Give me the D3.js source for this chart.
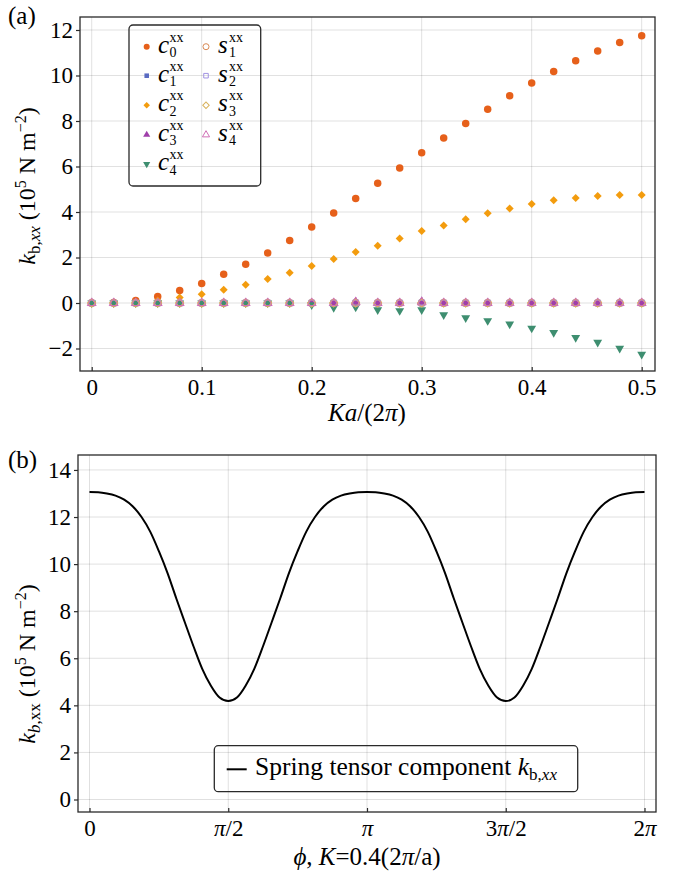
<!DOCTYPE html>
<html>
<head>
<meta charset="utf-8">
<script src="https://cdn.jsdelivr.net/npm/d3@7"></script>
<style>
  body { margin: 0; background: #fff; }
  svg { display: block; }
  text { font-family: "Liberation Serif", "Times New Roman", serif; fill: #000; }
</style>
</head>
<body>
<svg id="fig" width="683" height="871"></svg>
<script>
// ---------- panel (a): Fourier coefficients vs Ka/(2π) ----------
const ka = [0, 0.02, 0.04, 0.06, 0.08, 0.10, 0.12, 0.14, 0.16, 0.18, 0.20, 0.22, 0.24,
            0.26, 0.28, 0.30, 0.32, 0.34, 0.36, 0.38, 0.40, 0.42, 0.44, 0.46, 0.48, 0.50];
const c0 = [0.00, 0.02, 0.11, 0.29, 0.55, 0.86, 1.26, 1.70, 2.20, 2.75, 3.34, 3.96, 4.59,
            5.26, 5.93, 6.60, 7.25, 7.89, 8.52, 9.11, 9.67, 10.18, 10.65, 11.08, 11.45, 11.75];
const c1 = [0, 0, 0, 0, 0, 0, 0, 0, 0, 0, 0, 0, 0.02, 0, 0, 0.02, 0, 0, 0, 0, 0, 0, 0, 0, 0, 0];
const c2 = [0.00, 0.01, 0.04, 0.11, 0.24, 0.39, 0.58, 0.80, 1.06, 1.33, 1.63, 1.93, 2.24,
            2.52, 2.83, 3.16, 3.41, 3.68, 3.94, 4.15, 4.35, 4.52, 4.62, 4.70, 4.75, 4.75];
const c3 = [0, 0, 0, 0, 0, 0, 0, 0, 0, 0, 0, 0, 0.06, 0, 0, 0.07, 0, 0, 0, 0, 0, 0, 0, 0, 0, 0];
const c4 = [0, 0, 0, 0, 0, 0, 0, 0, 0, 0, -0.08, -0.20, -0.18, -0.30, -0.34, -0.30, -0.52,
            -0.65, -0.78, -0.93, -1.11, -1.30, -1.52, -1.73, -1.99, -2.26];
const s1 = [0, 0, 0, 0, 0, 0, 0, 0, 0, 0, 0, 0, 0, 0, 0, 0, 0, 0, 0, 0, 0, 0, 0, 0, 0, 0];
const s2 = [0, 0, 0, 0, 0, 0, 0, 0, 0, 0, 0, 0, 0, 0, 0, 0, 0, 0, 0, 0, 0, 0, 0, 0, 0, 0];
const s3 = [0, 0, 0, 0, 0, 0, 0, 0, 0, 0, 0, 0, 0, 0, 0, 0, 0, 0, 0, 0, 0, 0, 0, 0, 0, 0];
const s4 = [0, 0, 0, 0, 0, 0, 0, 0, 0, 0, 0, 0, 0.03, 0, 0, 0.03, 0, 0, 0, 0, 0, 0, 0, 0, 0, 0];
const xTicksA = [0, 0.1, 0.2, 0.3, 0.4, 0.5];
const yTicksA = [-2, 0, 2, 4, 6, 8, 10, 12];

// ---------- panel (b): k_b,xx vs phase ϕ ----------
// samples every π/32 over [0, 2π]
const kbxx = [13.06, 13.05, 13.00, 12.91, 12.74, 12.45, 12.00, 11.38, 10.55, 9.62, 8.55, 7.52, 6.50, 5.55, 4.83, 4.33, 4.18,
              4.33, 4.83, 5.55, 6.50, 7.52, 8.55, 9.62, 10.55, 11.38, 12.00, 12.45, 12.74, 12.91, 13.00, 13.05, 13.06,
              13.05, 13.00, 12.91, 12.74, 12.45, 12.00, 11.38, 10.55, 9.62, 8.55, 7.52, 6.50, 5.55, 4.83, 4.33, 4.18,
              4.33, 4.83, 5.55, 6.50, 7.52, 8.55, 9.62, 10.55, 11.38, 12.00, 12.45, 12.74, 12.91, 13.00, 13.05, 13.06];
const phiTicks = [0, Math.PI / 2, Math.PI, 3 * Math.PI / 2, 2 * Math.PI];
const phiTickLabels = ["0", "π/2", "π", "3π/2", "2π"];
const yTicksB = [0, 2, 4, 6, 8, 10, 12, 14];

const svg = d3.select("#fig");
const GRID = "rgba(0,0,0,0.12)";
const FRAME = "#2a2a2a";

const A = { l: 80, r: 655, t: 17, b: 371 };
const B = { l: 78, r: 656, t: 455, b: 812 };

const xa = d3.scaleLinear().domain([-0.01064, 0.5121]).range([A.l, A.r]);
const ya = d3.scaleLinear().domain([-2.989, 12.571]).range([A.b, A.t]);
const xb = d3.scaleLinear().domain([-0.1302, 2 * Math.PI + 0.1302]).range([B.l, B.r]);
const yb = d3.scaleLinear().domain([-0.531, 14.635]).range([B.b, B.t]);

function drawGrid(box, xs, ys, xt, yt) {
  const g = svg.append("g").attr("stroke", GRID).attr("stroke-width", 1);
  g.selectAll(".gx").data(xt).join("line")
    .attr("x1", d => xs(d)).attr("x2", d => xs(d)).attr("y1", box.t).attr("y2", box.b);
  g.selectAll(".gy").data(yt).join("line")
    .attr("y1", d => ys(d)).attr("y2", d => ys(d)).attr("x1", box.l).attr("x2", box.r);
}

function drawAxes(box, xs, ys, xt, yt, xfmt) {
  const gx = svg.append("g").attr("transform", `translate(0,${box.b})`)
    .call(d3.axisBottom(xs).tickValues(xt).tickSize(-4).tickPadding(8).tickFormat(xfmt));
  const gy = svg.append("g").attr("transform", `translate(${box.l},0)`)
    .call(d3.axisLeft(ys).tickValues(yt).tickSize(4).tickPadding(3));
  [gx, gy].forEach(g => {
    g.select(".domain").remove();
    g.attr("font-family", null).attr("font-size", null);
    g.selectAll(".tick line").attr("stroke", FRAME).attr("stroke-width", 1.2);
    g.selectAll(".tick text").style("font-size", "23px");
  });
  return gx;
}

function drawFrame(box) {
  svg.append("rect").attr("x", box.l).attr("y", box.t)
    .attr("width", box.r - box.l).attr("height", box.b - box.t)
    .attr("fill", "none").attr("stroke", FRAME).attr("stroke-width", 1.3);
}

// ---------- panel (a) ----------
drawGrid(A, xa, ya, xTicksA, yTicksA);
drawAxes(A, xa, ya, xTicksA, yTicksA, d3.format("~g"));

const series = [
  { vals: c0, shape: "circle",   color: "#E6601A", hollow: false },
  { vals: c1, shape: "square",   color: "#5A6BC2", hollow: false },
  { vals: c2, shape: "diamond",  color: "#F39C0E", hollow: false },
  { vals: c3, shape: "triangle", color: "#A03FAA", hollow: false },
  { vals: c4, shape: "tridown",  color: "#3E8E70", hollow: false },
  { vals: s1, shape: "circle",   color: "#D98A55", hollow: true },
  { vals: s2, shape: "square",   color: "#A294E2", hollow: true },
  { vals: s3, shape: "diamond",  color: "#D8B25C", hollow: true },
  { vals: s4, shape: "triangle", color: "#D070B6", hollow: true }
];

function markerPath(shape, k) {
  switch (shape) {
    case "circle":   return d3.symbol(d3.symbolCircle, 44 * k)();
    case "square":   return d3.symbol(d3.symbolSquare, 32 * k)();
    case "diamond":  return d3.symbol(d3.symbolSquare, 32 * k)();
    default:         return d3.symbol(d3.symbolTriangle, 34 * k)();
  }
}
function markerRot(shape) {
  return shape === "diamond" ? 45 : shape === "tridown" ? 180 : 0;
}

const plotA = svg.append("g");
series.forEach(s => {
  plotA.append("g").selectAll("path").data(ka).join("path")
    .attr("d", markerPath(s.shape, 1))
    .attr("transform", (d, i) => `translate(${xa(d)},${ya(s.vals[i])}) rotate(${markerRot(s.shape)})`)
    .attr("fill", s.hollow ? "none" : s.color)
    .attr("stroke", s.hollow ? s.color : "none")
    .attr("stroke-width", 1);
});
drawFrame(A);

// legend (a): symbol, then c/s with stacked superscript "xx" and subscript index
svg.append("rect").attr("x", 129).attr("y", 25).attr("width", 131.7).attr("height", 161)
  .attr("rx", 4).attr("fill", "none").attr("stroke", FRAME).attr("stroke-width", 1.3);
const legRows = [46.7, 75.7, 105.3, 134.8, 164];
const legItems = [
  { s: 0, col: 0, row: 0, base: "c", idx: "0" },
  { s: 1, col: 0, row: 1, base: "c", idx: "1" },
  { s: 2, col: 0, row: 2, base: "c", idx: "2" },
  { s: 3, col: 0, row: 3, base: "c", idx: "3" },
  { s: 4, col: 0, row: 4, base: "c", idx: "4" },
  { s: 5, col: 1, row: 0, base: "s", idx: "1" },
  { s: 6, col: 1, row: 1, base: "s", idx: "2" },
  { s: 7, col: 1, row: 2, base: "s", idx: "3" },
  { s: 8, col: 1, row: 3, base: "s", idx: "4" }
];
const legCols = [{ mx: 146.7, tx: 158, sx: 169.5 }, { mx: 206, tx: 218, sx: 229 }];
legItems.forEach(it => {
  const s = series[it.s], c = legCols[it.col], y = legRows[it.row];
  svg.append("path").attr("d", markerPath(s.shape, 0.65))
    .attr("transform", `translate(${c.mx},${y}) rotate(${markerRot(s.shape)})`)
    .attr("fill", s.hollow ? "none" : s.color)
    .attr("stroke", s.hollow ? s.color : "none").attr("stroke-width", 1);
  const t = svg.append("text").attr("x", c.tx).attr("y", y + 6);
  t.append("tspan").style("font-size", "25px").style("font-style", "italic").text(it.base);
  t.append("tspan").attr("x", c.sx).attr("dy", -11).style("font-size", "14px").text("xx");
  t.append("tspan").attr("x", c.sx).attr("dy", 15.5).style("font-size", "14px").text(it.idx);
});

// axis titles (a)
const xtA = svg.append("text").attr("x", 367).attr("y", 421).attr("text-anchor", "middle").style("font-size", "25px");
xtA.append("tspan").style("font-style", "italic").text("Ka");
xtA.append("tspan").text("/(2");
xtA.append("tspan").style("font-style", "italic").text("π");
xtA.append("tspan").text(")");

const ytA = svg.append("text").attr("transform", "translate(35,186) rotate(-90)")
  .attr("text-anchor", "middle").style("font-size", "24px");
ytA.append("tspan").style("font-style", "italic").text("k");
ytA.append("tspan").attr("dy", 5).style("font-size", "17px").text("b,");
ytA.append("tspan").style("font-size", "17px").style("font-style", "italic").text("xx");
ytA.append("tspan").attr("dy", -5).text(" (10");
ytA.append("tspan").attr("dy", -9).style("font-size", "16px").text("5");
ytA.append("tspan").attr("dy", 9).text(" N m");
ytA.append("tspan").attr("dy", -9).style("font-size", "16px").text("−2");
ytA.append("tspan").attr("dy", 9).text(")");

svg.append("text").attr("x", 8).attr("y", 24).style("font-size", "25px").text("(a)");

// ---------- panel (b) ----------
drawGrid(B, xb, yb, phiTicks, yTicksB);
const gxB = drawAxes(B, xb, yb, phiTicks, yTicksB, (d, i) => phiTickLabels[i]);
// italic π in tick labels
gxB.selectAll(".tick text").each(function () {
  const t = d3.select(this), label = t.text();
  t.text(null);
  label.split(/(π)/).filter(p => p.length).forEach(p => {
    t.append("tspan").style("font-style", p === "π" ? "italic" : null).text(p);
  });
});

const phi = d3.range(kbxx.length).map(k => k * Math.PI / 32);
const line = d3.line().x((d, i) => xb(phi[i])).y(d => yb(d)).curve(d3.curveMonotoneX);
svg.append("path").datum(kbxx).attr("d", line)
  .attr("fill", "none").attr("stroke", "#000").attr("stroke-width", 2);
drawFrame(B);

// legend (b)
svg.append("rect").attr("x", 214.3).attr("y", 745.7).attr("width", 363.4).attr("height", 46)
  .attr("rx", 4).attr("fill", "none").attr("stroke", FRAME).attr("stroke-width", 1.3);
svg.append("line").attr("x1", 226.7).attr("x2", 246.7).attr("y1", 769.3).attr("y2", 769.3)
  .attr("stroke", "#000").attr("stroke-width", 2);
const lgB = svg.append("text").attr("x", 255).attr("y", 775).style("font-size", "25.5px");
lgB.append("tspan").text("Spring tensor component ");
lgB.append("tspan").style("font-style", "italic").text("k");
lgB.append("tspan").attr("dy", 5).style("font-size", "17px").text("b,");
lgB.append("tspan").style("font-size", "17px").style("font-style", "italic").text("xx");

// axis titles (b)
const xtB = svg.append("text").attr("x", 367).attr("y", 865).attr("text-anchor", "middle").style("font-size", "25px");
xtB.append("tspan").style("font-style", "italic").text("ϕ");
xtB.append("tspan").text(", ");
xtB.append("tspan").style("font-style", "italic").text("K");
xtB.append("tspan").text("=0.4(2");
xtB.append("tspan").style("font-style", "italic").text("π");
xtB.append("tspan").text("/a)");

const ytB = svg.append("text").attr("transform", "translate(35,664) rotate(-90)")
  .attr("text-anchor", "middle").style("font-size", "24px");
ytB.append("tspan").style("font-style", "italic").text("k");
ytB.append("tspan").attr("dy", 5).style("font-size", "17px").style("font-style", "italic").text("b");
ytB.append("tspan").style("font-size", "17px").text(",xx");
ytB.append("tspan").attr("dy", -5).text(" (10");
ytB.append("tspan").attr("dy", -9).style("font-size", "16px").text("5");
ytB.append("tspan").attr("dy", 9).text(" N m");
ytB.append("tspan").attr("dy", -9).style("font-size", "16px").text("−2");
ytB.append("tspan").attr("dy", 9).text(")");

svg.append("text").attr("x", 8).attr("y", 468).style("font-size", "25px").text("(b)");
</script>
</body>
</html>
